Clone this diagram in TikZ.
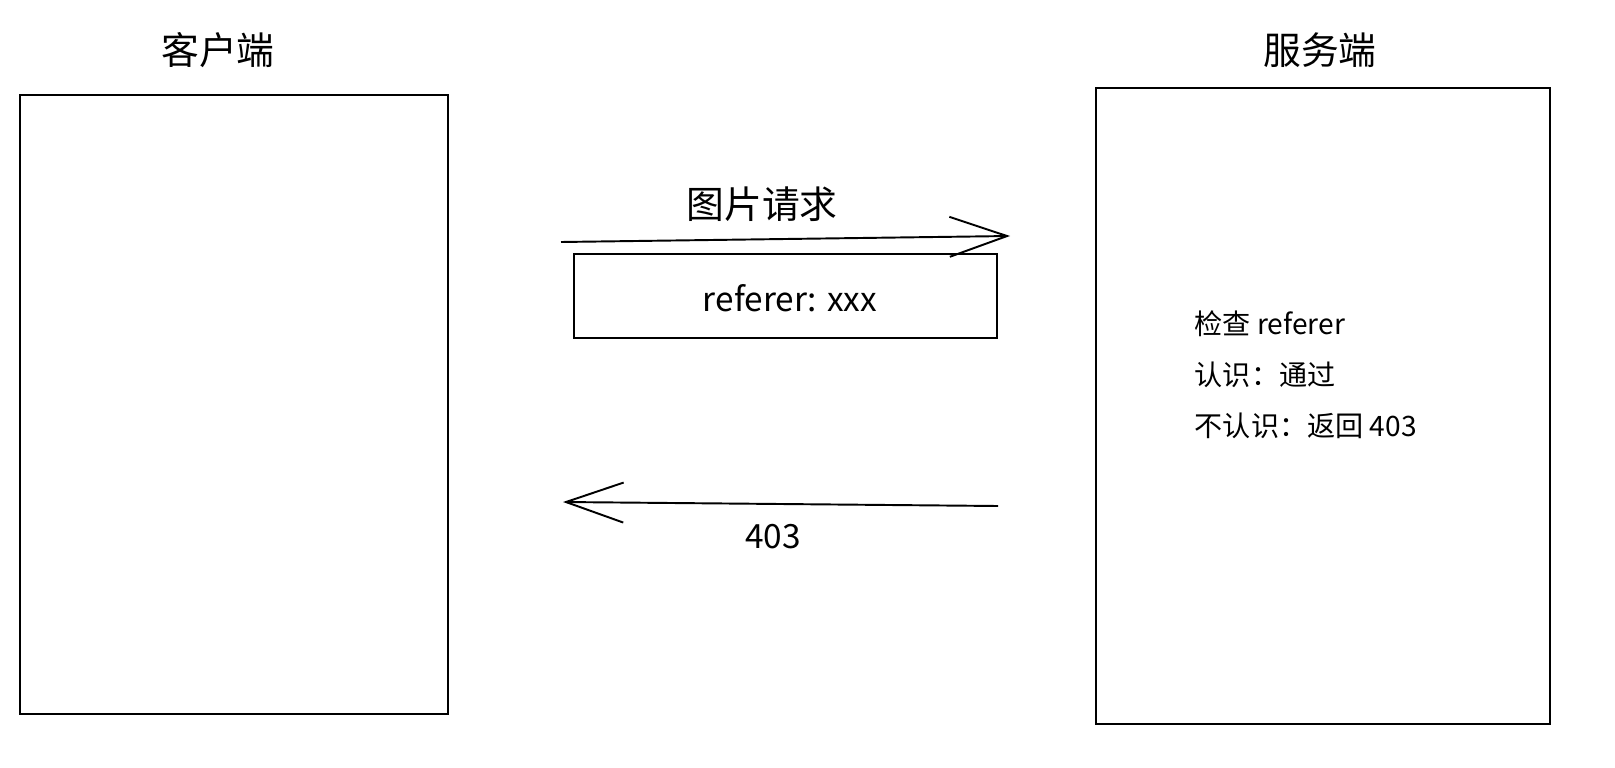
\documentclass[tikz,border=0pt]{standalone}
\usepackage{fontspec}
\setmainfont{Noto Sans CJK SC}
\usetikzlibrary{positioning}
\usetikzlibrary{arrows.meta}

\begin{document}
\begin{tikzpicture}[x=0.02cm, y=-0.02cm, line width=1.1pt,
		sketch/.style={draw, inner sep=0pt},
		big/.style={font=\fontsize{21.5}{26}\selectfont},
		small/.style={font=\fontsize{16}{24}\selectfont},
		hand/.style={font=\fontsize{19}{24}\selectfont},
		barb/.style={-{Straight Barb[length=1.15cm, width=0.8cm, line width=1.1pt]}}]
		\useasboundingbox (0,0) rectangle (1615,767);
		\node[sketch, minimum width=8.56cm, minimum height=12.38cm] (client) at (234,404.5) {};
		\node[sketch, minimum width=9.08cm, minimum height=12.72cm] (server) at (1323,406) {};
		\node[big] (clientlabel) at (218,50) {客户端};
		\node[big] (serverlabel) at (1320,50) {服务端};
		\node[sketch, minimum width=8.46cm, minimum height=1.68cm] (header) at (785.5,296) {};
		\node[hand] (headertext) at (790,298) {referer: xxx};
		\node[big] (reqlabel) at (762,204) {图片请求};
		\coordinate (reqstart) at (561,242);
		\coordinate (reqend) at (1010,236);
		\coordinate (respstart) at (998,506);
		\coordinate (respend) at (563,502);
		\draw[barb] (reqstart) -- (reqend);
		\draw[barb] (respstart) -- (respend);
		\node[hand, below = 0.3cm of respend, xshift=4.2cm] (resplabel) {403};
		\node[small, align=left, anchor=north west, text depth=0pt] (check) at (1188,304) {检查 referer\\[5pt]认识：通过\\[5pt]不认识：返回 403};
	\end{tikzpicture}
\end{document}
